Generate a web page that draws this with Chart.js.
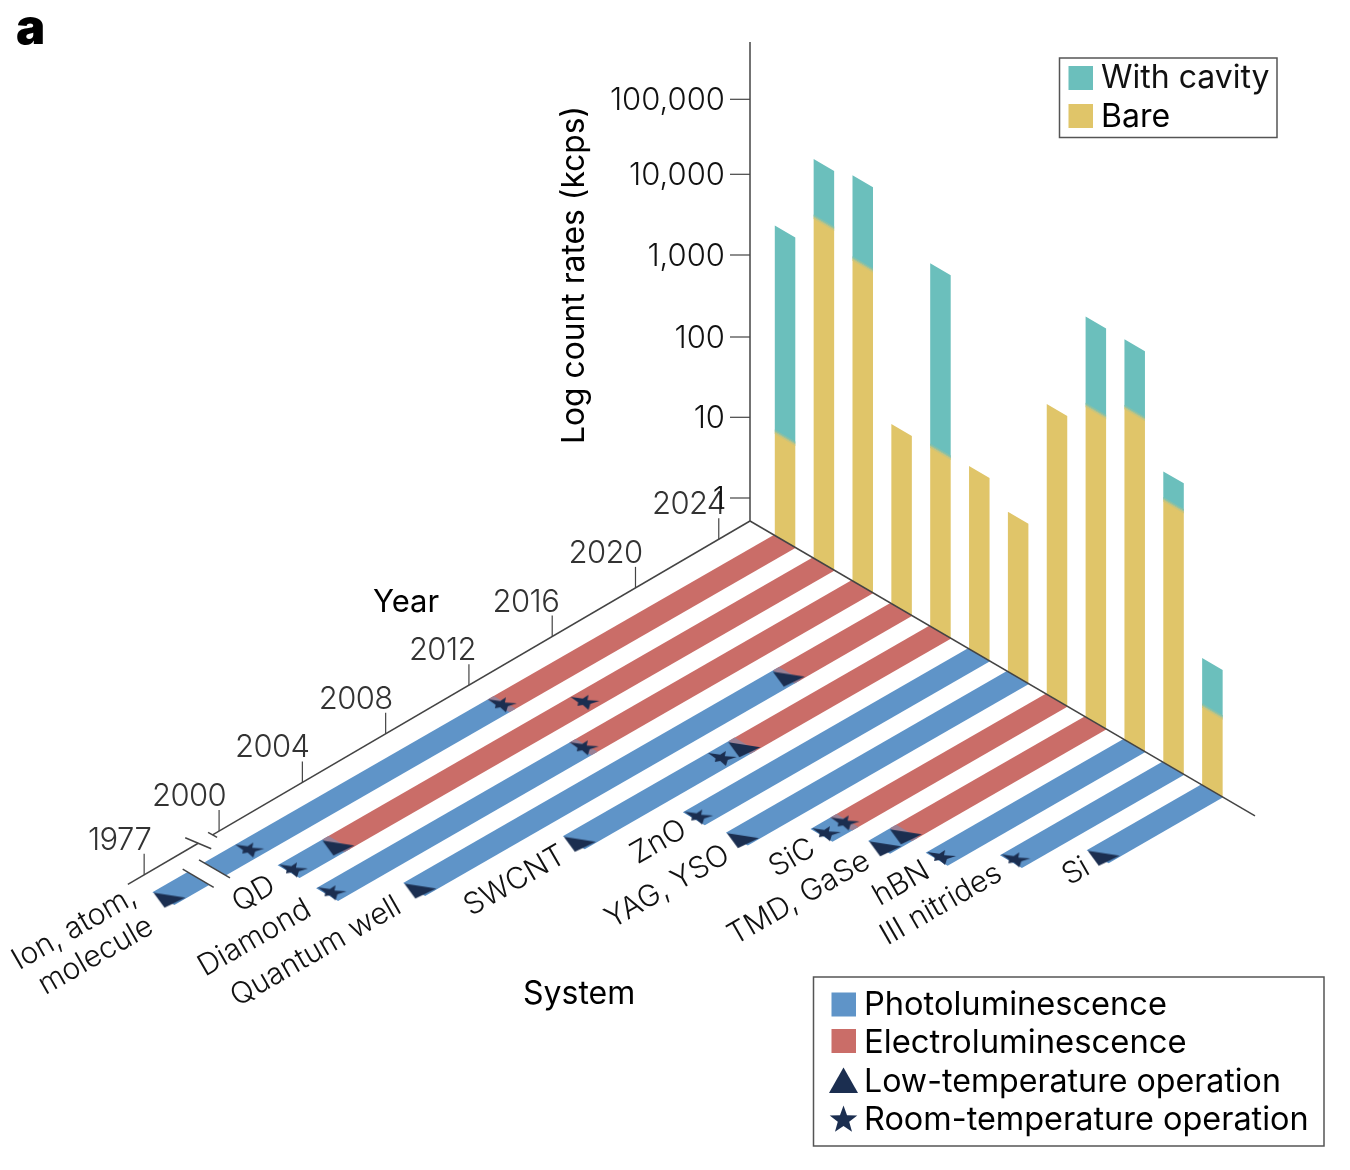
<!DOCTYPE html>
<html>
<head>
<meta charset="utf-8">
<title>Count rates</title>
<script src="https://cdn.jsdelivr.net/npm/chart.js@4"></script>
<style>
  html, body { margin: 0; padding: 0; background: #fff; }
  canvas { display: block; }
</style>
</head>
<body>
<canvas id="chart" width="1350" height="1170"></canvas>
<script>
// values
const systems = ['Ion, atom,\nmolecule', 'QD', 'Diamond', 'Quantum well', 'SWCNT', 'ZnO', 'YAG, YSO', 'SiC', 'TMD, GaSe', 'hBN', 'III nitrides', 'Si'];
const bareRates = [10, 8600, 5000, 88, 90, 97, 50, 2000, 3700, 6700, 920, 5];
const cavityRates = [3500, 50000, 61000, null, 16500, null, null, null, 52000, 52000, 2040, 19.5];
const photoStart = [1973.5, 2000, 1999.9, 2002.3, 2008.1, 2012, 2012.2, 2014.4, 2015.3, 2016.2, 2017.9, 2020.2];
const electroStart = [2011.9, 2002.1, 2012.1, 2020, 2016, null, null, 2015.3, 2016.3, null, null, null];
const lowTempYears = [[1973.5], [2002.1], [], [2002.3, 2020], [2008.1, 2016], [], [2012.2], [], [2015.3, 2016.3], [], [], [2020.2]];
const roomTempYears = [[1998.5, 2011.9], [2000, 2014], [1999.9, 2012.1], [], [2015], [2012], [], [2014.4, 2015.3], [], [2016.2], [2017.9], []];
const yearTicks = [1977, 2000, 2004, 2008, 2012, 2016, 2020, 2024];
const rateTicks = [1, 10, 100, 1000, 10000, 100000];
const rateLabels = ['1', '10', '100', '1,000', '10,000', '100,000'];
const breakYears = [1983, 1988];
const axisBreakYears = [1993.6, 1998];

const BLUE = '#5f94c8', RED = '#ca6d68', TEAL = '#6bbfbc', YELLOW = '#e0c569', NAVY = '#1b2e50', AXIS = '#444444';
const FONT = 'Inter, "Open Sans", sans-serif';

// oblique projection: floor (year, distance along system axis) + height
const ORIGIN = { x: 750, y: 521 };
const YEAR_PX = 20.82;
const SLOT_START = 24.8, SLOT_STEP = 38.85, SLOT_W = 20.5, STRIP_PAD = 1;
const SYS_SLOPE = 0.584, STRIP_SLOPE = 0.575;
const LAST_YEAR = 2025.5;
const DECADE_H = [23, 103.7, 184, 266, 346.7, 421.7];

// years before 2000 are squeezed behind the axis break
const yearPos = (y) => (y >= 2000 ? y : 2000 - (2000 - y) * 0.1565);

function floorPoint(pos, a) {
  const d = LAST_YEAR - pos;
  return { x: ORIGIN.x + a - YEAR_PX * d, y: ORIGIN.y + SYS_SLOPE * a + STRIP_SLOPE * YEAR_PX * d };
}
function axisPoint(year) {
  const d = LAST_YEAR - yearPos(year);
  return { x: ORIGIN.x - YEAR_PX * d, y: ORIGIN.y + SYS_SLOPE * YEAR_PX * d };
}
function rateHeight(v) {
  const lg = Math.log10(v);
  const i = Math.min(Math.max(Math.floor(lg), 0), 4);
  return DECADE_H[i] + (lg - i) * (DECADE_H[i + 1] - DECADE_H[i]);
}
function slotStart(i) { return SLOT_START + SLOT_STEP * i; }

function poly(points, color, order) {
  return {
    data: [...points, points[0]],
    showLine: true, fill: 'shape', backgroundColor: color, borderColor: color,
    borderWidth: 0, pointRadius: 0, tension: 0, order,
  };
}
function segment(a, b, width, order) {
  return { data: [a, b], showLine: true, fill: false, borderColor: AXIS, borderWidth: width, pointRadius: 0, order };
}
function stripPoly(i, from, to, color, order = 6) {
  const a = slotStart(i) - STRIP_PAD, b = slotStart(i) + SLOT_W + STRIP_PAD * 0.5;
  return poly([floorPoint(from, a), floorPoint(to, a), floorPoint(to, b), floorPoint(from, b)], color, order);
}
function barPoly(i, hLow, hHigh, color, order = 6) {
  const a = slotStart(i);
  const l = floorPoint(LAST_YEAR, a), r = floorPoint(LAST_YEAR, a + SLOT_W);
  return poly([
    { x: l.x, y: l.y - hLow }, { x: r.x, y: r.y - hLow },
    { x: r.x, y: r.y - hHigh }, { x: l.x, y: l.y - hHigh },
  ], color, order);
}

// marker shapes lie flat on the floor, so they are skewed; drawn to a small canvas
const TRI_SHAPE = [[-14.3, -3.7], [17.7, 1.3], [-3.3, 11.3]];
const STAR_TIPS = [[-14, -5], [4, -7], [15, -1], [4, 8], [-7, 4]];
function starShape() {
  const out = [];
  STAR_TIPS.forEach((p, k) => {
    const opposite = STAR_TIPS[(k + 3) % 5];
    out.push(p);
    out.push([-opposite[0] * 0.42, -opposite[1] * 0.42]);
  });
  return out;
}
function markerImage(shape) {
  const c = document.createElement('canvas');
  c.width = 48; c.height = 48;
  const g = c.getContext('2d');
  g.fillStyle = NAVY;
  g.beginPath();
  shape.forEach((p, k) => (k ? g.lineTo(24 + p[0], 24 + p[1]) : g.moveTo(24 + p[0], 24 + p[1])));
  g.closePath();
  g.fill();
  return c;
}
function markerPoints(years) {
  const pts = [];
  years.forEach((list, i) => list.forEach((y) => pts.push(floorPoint(yearPos(y), slotStart(i) + SLOT_W / 2))));
  return pts;
}

const datasets = [];

// floor strips
systems.forEach((s, i) => {
  const from = yearPos(photoStart[i]) - 0.2;
  const el = electroStart[i];
  if (el === null) {
    datasets.push(stripPoly(i, from, LAST_YEAR, BLUE));
  } else {
    datasets.push(stripPoly(i, from, el, BLUE));
    datasets.push(stripPoly(i, el, LAST_YEAR, RED));
    datasets.push(stripPoly(i, el - 0.15, el + 0.15, '#9a8196', 5));
  }
});

// white gap of the break on the first strip
const gapA = yearPos(breakYears[0]), gapB = yearPos(breakYears[1]);
datasets.push(poly([floorPoint(gapA, 15), floorPoint(gapB, 15), floorPoint(gapB, 55), floorPoint(gapA, 55)], '#ffffff', 4));
breakYears.forEach((y) => {
  const p = yearPos(y);
  datasets.push(segment(floorPoint(p, 19), floorPoint(p, 50), 1.5, 3));
});

// bars on the back wall, soft seam between bare and cavity
const seamColors = ['#c9c47d', '#a6c293', '#86c0a8'];
systems.forEach((s, i) => {
  const hBare = rateHeight(bareRates[i]);
  datasets.push(barPoly(i, 0, hBare, YELLOW));
  if (cavityRates[i] !== null) {
    datasets.push(barPoly(i, hBare, rateHeight(cavityRates[i]), TEAL));
    seamColors.forEach((c, k) => {
      datasets.push(barPoly(i, hBare - 2.2 + k * 1.5, hBare - 0.7 + k * 1.5, c, 5));
    });
  }
});

// axes
const topY = ORIGIN.y - 479;
datasets.push(segment({ x: ORIGIN.x, y: ORIGIN.y }, { x: ORIGIN.x, y: topY }, 1.5, 2));
const sysEnd = floorPoint(LAST_YEAR, 505);
datasets.push(segment({ x: ORIGIN.x, y: ORIGIN.y }, sysEnd, 1.5, 2));
datasets.push(segment({ x: ORIGIN.x, y: ORIGIN.y }, axisPoint(axisBreakYears[1]), 1.5, 2));
datasets.push(segment(axisPoint(axisBreakYears[0]), axisPoint(1972), 1.5, 2));
datasets.push(segment({ x: axisPoint(axisBreakYears[1]).x - 4.5, y: axisPoint(axisBreakYears[1]).y - 2.5 },
  { x: axisPoint(axisBreakYears[1]).x + 4.5, y: axisPoint(axisBreakYears[1]).y + 2.5 }, 1.5, 2));
datasets.push(segment({ x: axisPoint(axisBreakYears[0]).x - 13, y: axisPoint(axisBreakYears[0]).y - 5.5 },
  { x: axisPoint(axisBreakYears[0]).x + 13, y: axisPoint(axisBreakYears[0]).y + 5.5 }, 1.5, 2));
yearTicks.forEach((y) => {
  const p = axisPoint(y);
  datasets.push(segment(p, { x: p.x, y: p.y - 21 }, 1.2, 2));
});
rateTicks.forEach((v) => {
  const y = ORIGIN.y - rateHeight(v);
  datasets.push(segment({ x: ORIGIN.x, y }, { x: ORIGIN.x - 20, y }, 1.2, 2));
});

// temperature markers, above everything else
datasets.push({ data: markerPoints(lowTempYears), pointStyle: markerImage(TRI_SHAPE), showLine: false, order: 0 });
datasets.push({ data: markerPoints(roomTempYears), pointStyle: markerImage(starShape()), showLine: false, order: 0 });

function txt(ctx, str, x, y, size, o = {}) {
  ctx.save();
  ctx.translate(x, y);
  if (o.rot) ctx.rotate(o.rot);
  ctx.font = `${o.weight || 400} ${size}px ${o.font || FONT}`;
  ctx.fillStyle = o.color || '#111';
  ctx.textAlign = o.align || 'left';
  ctx.textBaseline = 'alphabetic';
  if (o.spacing) ctx.letterSpacing = o.spacing + 'px';
  ctx.fillText(str, 0, 0);
  ctx.restore();
}

// where the system names end, relative to the tip of the strip
const labelNudge = [[-15, 9], [-1, 25], [-4, 26], [-1, 28], [4, 24], [5, 22], [5, 27], [6, 24], [3, 25], [5, 23], [3, 23], [4, 22]];
const textPlugin = {
  id: 'textPlugin',
  afterDraw(chart) {
    const ctx = chart.ctx;
    const rot = -Math.atan(STRIP_SLOPE);

    txt(ctx, 'a', 16, 44, 49, { weight: 900, color: '#000' });
    txt(ctx, 'Year', 373, 612, 31, { color: '#000' });
    txt(ctx, 'System', 523, 1004, 32, { color: '#000' });
    txt(ctx, 'Log count rates (kcps)', 584, 444, 31.8, { rot: -Math.PI / 2, color: '#000' });

    yearTicks.forEach((y) => {
      const p = axisPoint(y);
      txt(ctx, String(y), p.x + 7, p.y - 25, 31, { align: 'right', weight: 300, color: '#333', spacing: -0.6 });
    });
    rateTicks.forEach((v, k) => {
      txt(ctx, rateLabels[k], 725, ORIGIN.y - rateHeight(v) + 11, 31, { align: 'right', weight: 300 });
    });

    systems.forEach((name, i) => {
      const tip = floorPoint(yearPos(photoStart[i]) - 0.2, slotStart(i));
      const x = tip.x + labelNudge[i][0], y = tip.y + labelNudge[i][1];
      const lines = name.split('\n');
      lines.forEach((line, k) => {
        const dx = k * 17, dy = k * 30;
        txt(ctx, line, x + dx, y + dy, 30, { align: 'right', rot, weight: 300 });
      });
    });

    // legends
    ctx.strokeStyle = '#555';
    ctx.lineWidth = 1.5;
    ctx.strokeRect(1059.5, 58, 217.5, 79.5);
    ctx.strokeRect(813.5, 977, 510.5, 169);
    ctx.fillStyle = TEAL; ctx.fillRect(1068.5, 66, 24.5, 24);
    ctx.fillStyle = YELLOW; ctx.fillRect(1068.5, 104, 24.5, 24);
    ctx.fillStyle = BLUE; ctx.fillRect(831.5, 992.5, 24.5, 24);
    ctx.fillStyle = RED; ctx.fillRect(831.5, 1029, 24.5, 24);
    ctx.fillStyle = NAVY;
    ctx.beginPath();
    ctx.moveTo(829, 1093); ctx.lineTo(858, 1093); ctx.lineTo(843.5, 1067.5);
    ctx.closePath(); ctx.fill();
    ctx.beginPath();
    for (let k = 0; k < 10; k++) {
      const r = k % 2 ? 6 : 14.5, t = -Math.PI / 2 + k * Math.PI / 5;
      const px = 843.5 + r * Math.cos(t), py = 1120 + r * Math.sin(t);
      k ? ctx.lineTo(px, py) : ctx.moveTo(px, py);
    }
    ctx.closePath(); ctx.fill();

    txt(ctx, 'With cavity', 1101, 88, 32, { color: '#111' });
    txt(ctx, 'Bare', 1101, 127, 32, { color: '#000' });
    txt(ctx, 'Photoluminescence', 864, 1015, 32.6, { color: '#000' });
    txt(ctx, 'Electroluminescence', 864, 1053, 32.8, { color: '#000' });
    txt(ctx, 'Low-temperature operation', 864, 1092, 32.15, { color: '#000' });
    txt(ctx, 'Room-temperature operation', 864, 1130, 32.45, { color: '#000' });
  },
};

new Chart(document.getElementById('chart'), {
  type: 'scatter',
  data: { datasets },
  plugins: [textPlugin],
  options: {
    responsive: false,
    animation: false,
    events: [],
    layout: { padding: 0, autoPadding: false },
    plugins: { legend: { display: false }, tooltip: { enabled: false } },
    scales: {
      x: { type: 'linear', min: 0, max: 1350, display: false },
      y: { type: 'linear', min: 0, max: 1170, reverse: true, display: false },
    },
  },
});
</script>
</body>
</html>
